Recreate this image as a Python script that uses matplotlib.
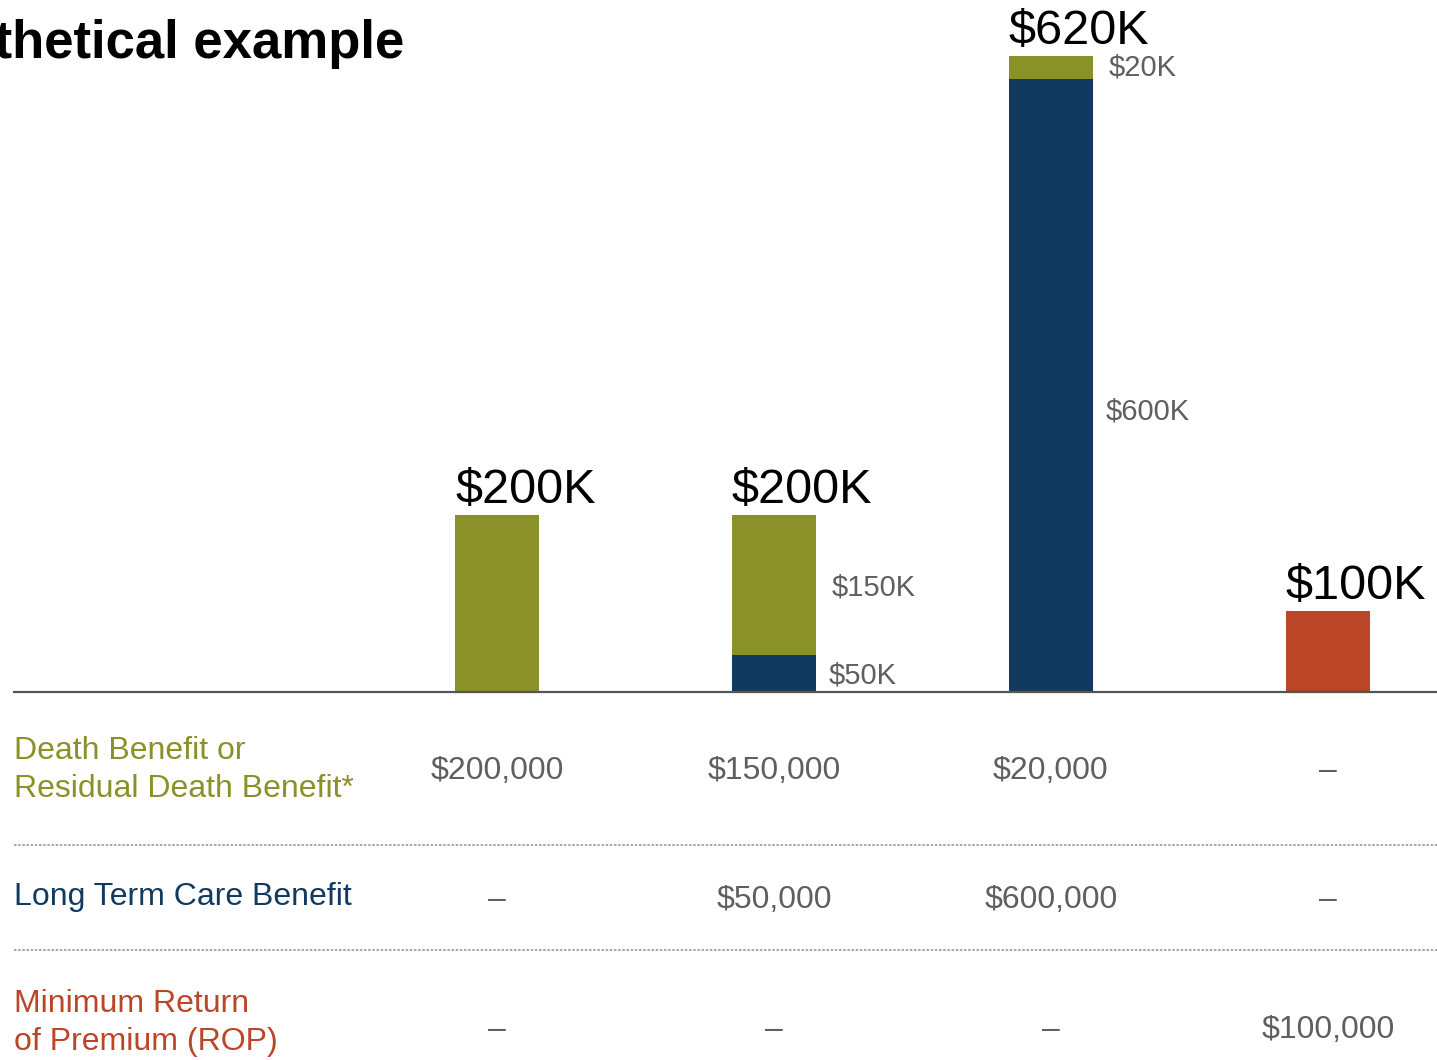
import numpy as np
import matplotlib
matplotlib.use("Agg")
import matplotlib.pyplot as plt
from matplotlib.transforms import blended_transform_factory

plt.rcParams['font.family'] = ['Liberation Sans', 'DejaVu Sans']

# data (thousands of dollars)
scenarios = [0, 1, 2, 3]
death_benefit = [200, 150, 20, 0]
ltc_benefit = [0, 50, 600, 0]
rop = [0, 0, 0, 100]
totals = ["$200K", "$200K", "$620K", "$100K"]

row_labels = ["Death Benefit or\nResidual Death Benefit*",
              "Long Term Care Benefit",
              "Minimum Return\nof Premium (ROP)"]
row_values = [["$200,000", "$150,000", "$20,000", "\u2013"],
              ["\u2013", "$50,000", "$600,000", "\u2013"],
              ["\u2013", "\u2013", "\u2013", "$100,000"]]

olive = '#8b9129'
navy = '#12395e'
rust = '#bb4527'
gray = '#5f5f5f'
row_colors = [olive, navy, rust]

W, H = 1437, 1060
fig = plt.figure(figsize=(W / 100, H / 100), dpi=100)
ax = fig.add_axes([14 / W, (H - 692) / H, (W - 14) / W, 692 / H])

# mild power scale so the tall bar fits like the original
p = 1.13
ax.set_yscale('function', functions=(lambda v: np.sign(v) * np.abs(v) ** p,
                                     lambda v: np.sign(v) * np.abs(v) ** (1 / p)))

bw = 0.303
x = np.array(scenarios)
ax.bar(x, ltc_benefit, bw, color=navy, linewidth=0)
ax.bar(x, death_benefit, bw, bottom=ltc_benefit, color=olive, linewidth=0)
ax.bar(x, rop, bw, color=rust, linewidth=0)

top = (620 ** p * 692 / 636) ** (1 / p)
ax.set_ylim(0, top)
ax.set_xlim(-1.744, 3.394)

for s in ['top', 'right', 'left']:
    ax.spines[s].set_visible(False)
ax.spines['bottom'].set_color('#555555')
ax.spines['bottom'].set_linewidth(1.6)
ax.set_xticks([])
ax.set_yticks([])

# total labels above bars
stack_tops = np.array(death_benefit) + np.array(ltc_benefit) + np.array(rop)
for xi, t, lab in zip(x, stack_tops, totals):
    ax.annotate(lab, (xi - bw / 2, t), xytext=(0, 2), textcoords='offset pixels',
                ha='left', va='bottom', fontsize=35, color='black')

# segment labels to the right of stacked bars
for xi, d, l in zip(x, death_benefit, ltc_benefit):
    if d and l:
        ax.annotate("$%dK" % l, (xi + bw / 2, l / 2), xytext=(13, 0),
                    textcoords='offset pixels', ha='left', va='center',
                    fontsize=21, color=gray)
        ax.annotate("$%dK" % d, (xi + bw / 2, l + d / 2), xytext=(16, 0),
                    textcoords='offset pixels', ha='left', va='center',
                    fontsize=21, color=gray)

# title (cut off at the left as in the original)
fig.text(404 / W, 1 - 58 / H, "Hypothetical example", ha='right', va='baseline',
         fontsize=38, fontweight='bold', color='black')

# table below chart
tr = blended_transform_factory(ax.transData, fig.transFigure)
value_y = [771, 900, 1030]
label_y = [770, 897, 1023]
for i, (lab, vals) in enumerate(zip(row_labels, row_values)):
    fig.text(14 / W, 1 - label_y[i] / H, lab, ha='left', va='center',
             fontsize=23, color=row_colors[i], linespacing=1.38)
    for xi, v in zip(x, vals):
        fig.text(xi, 1 - value_y[i] / H, v, transform=tr, ha='center',
                 va='center', fontsize=23, color=gray)

for yy in [845, 950]:
    fig.add_artist(plt.Line2D([14 / W, 1], [1 - yy / H, 1 - yy / H],
                              color='#9a9a9a', linewidth=1.2, linestyle=(0, (1.5, 1))))

fig.savefig('out.png', dpi=100)
